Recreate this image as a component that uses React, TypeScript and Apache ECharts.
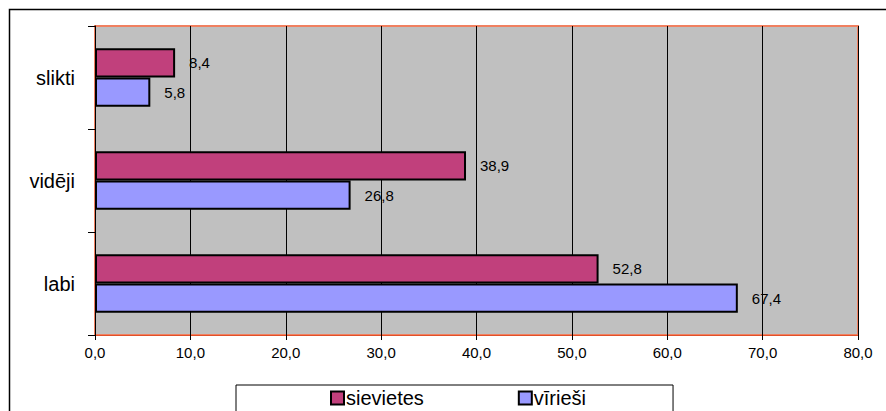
import React, { useEffect, useRef } from "react";
import * as echarts from "echarts";

const categories = ["labi", "vidēji", "slikti"];
const sievietes = [52.8, 38.9, 8.4];
const virieshi = [67.4, 26.8, 5.8];
const seriesNames = ["sievietes", "vīrieši"];
const xMin = 0;
const xMax = 80;
const xStep = 10;

const fmt = (v: number) => v.toFixed(1).replace(".", ",");
const FONT = "'Liberation Sans', Arial, sans-serif";

export default function App() {
  const ref = useRef<HTMLDivElement>(null);
  useEffect(() => {
    const chart = echarts.init(ref.current!, null, { renderer: "svg" });
    const label = {
      show: true,
      position: "right" as const,
      distance: 14,
      color: "#000",
      fontSize: 15,
      fontFamily: FONT,
      formatter: (p: any) => fmt(p.value),
    };
    chart.setOption({
      animation: false,
      textStyle: { fontFamily: FONT },
      graphic: [
        {
          type: "rect",
          shape: { x: 9.5, y: 9.5, width: 1200, height: 1200 },
          style: { fill: "none", stroke: "#000", lineWidth: 1.5 },
          silent: true,
          z: -10,
        },
      ],
      grid: {
        left: 95,
        top: 26,
        right: 28,
        bottom: 76,
        show: true,
        backgroundColor: "#C0C0C0",
        borderColor: "#F08060",
        borderWidth: 2,
      },
      legend: {
        data: seriesNames,
        left: 236,
        top: 385,
        backgroundColor: "#fff",
        borderColor: "#000",
        borderWidth: 1,
        borderRadius: 0,
        padding: [3, 87, 4, 94],
        itemGap: 94,
        itemWidth: 13,
        itemHeight: 13,
        icon: "rect",
        itemStyle: { borderColor: "#000", borderWidth: 2 },
        textStyle: { fontSize: 20, color: "#000", fontFamily: FONT, padding: [0, 0, 0, -3] },
      },
      xAxis: {
        type: "value",
        min: xMin,
        max: xMax,
        interval: xStep,
        axisLine: { show: true, lineStyle: { color: "#E0502A", width: 1 } },
        axisTick: { show: true, length: 5, lineStyle: { color: "#000" } },
        axisLabel: { color: "#000", fontSize: 15, margin: 10, formatter: (v: number) => fmt(v) },
        splitLine: { show: true, lineStyle: { color: "#000", width: 1 } },
      },
      yAxis: {
        type: "category",
        data: categories,
        axisLine: { show: true, lineStyle: { color: "#000", width: 1 } },
        axisTick: { show: true, length: 7, lineStyle: { color: "#000" } },
        axisLabel: { color: "#000", fontSize: 20, margin: 20 },
        splitLine: { show: false },
      },
      series: [
        {
          name: seriesNames[0],
          type: "bar",
          data: sievietes,
          barGap: "0%",
          barCategoryGap: "43%",
          itemStyle: { color: "#C1407C", borderColor: "#000", borderWidth: 2 },
          label,
        },
        {
          name: seriesNames[1],
          type: "bar",
          data: virieshi,
          barGap: "0%",
          barCategoryGap: "43%",
          itemStyle: { color: "#9999FF", borderColor: "#000", borderWidth: 2 },
          label,
        },
      ],
    });
    return () => chart.dispose();
  }, []);
  return (
    <div
      ref={ref}
      style={{ position: "absolute", left: 0, top: 0, width: 886, height: 411 }}
    />
  );
}
